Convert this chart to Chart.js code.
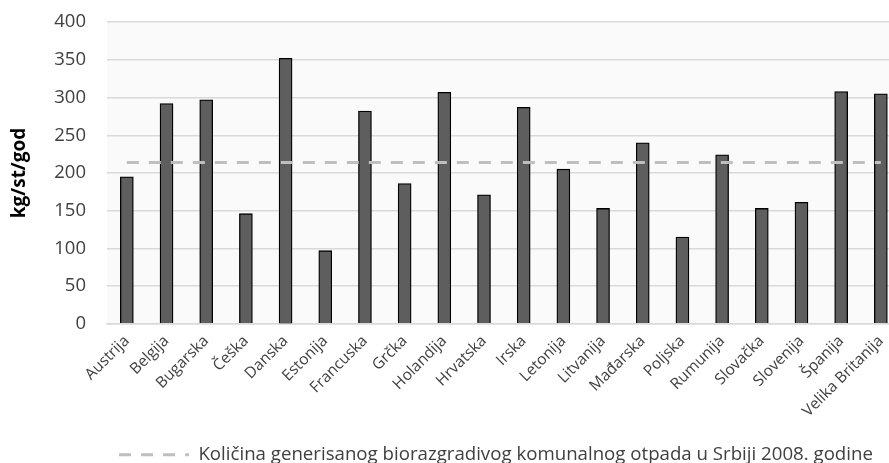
<!DOCTYPE html>
<html>
<head>
<meta charset="utf-8">
<script src="https://cdn.jsdelivr.net/npm/chart.js@4.4.1/dist/chart.umd.min.js"></script>
<style>
  html, body { margin: 0; padding: 0; background: #ffffff; overflow: hidden; }
  #wrap { width: 902px; height: 484px; position: relative; top: -10px; }
</style>
</head>
<body>
<div id="wrap"><canvas id="c"></canvas></div>
<script>
const categories = ["Austrija","Belgija","Bugarska","Češka","Danska","Estonija","Francuska","Grčka","Holandija","Hrvatska","Irska","Letonija","Litvanija","Mađarska","Poljska","Rumunija","Slovačka","Slovenija","Španija","Velika Britanija"];
const wasteValues = [195, 292, 297, 146, 352, 97, 282, 186, 307, 171, 287, 205, 153, 240, 115, 224, 153, 161, 308, 305];
const serbiaValues = [214, 214, 214, 214, 214, 214, 214, 214, 214, 214, 214, 214, 214, 214, 214, 214, 214, 214, 214, 214];
const yTicks = [0, 50, 100, 150, 200, 250, 300, 350, 400];
const yTitle = "kg/st/god";
const legendLabel = "Količina generisanog biorazgradivog komunalnog otpada u Srbiji 2008. godine";

const FONT = "'Open Sans', sans-serif";
const TEXT = "#404040";

const plotBg = {
  id: 'plotBg',
  beforeDraw(chart) {
    const {ctx, chartArea: a} = chart;
    ctx.save();
    ctx.fillStyle = '#fafafa';
    ctx.fillRect(a.left, a.top, a.right - a.left, a.bottom - a.top);
    ctx.restore();
  }
};

const legendShift = {
  id: 'legendShift',
  afterLayout(chart) {
    const lg = chart.legend;
    if (lg) { lg.left += 45; lg.right += 45; }
  }
};

new Chart(document.getElementById('c'), {
  data: {
    labels: categories,
    datasets: [
      {
        type: 'line',
        label: legendLabel,
        data: serbiaValues,
        borderColor: '#bfbfbf',
        backgroundColor: '#bfbfbf',
        borderWidth: 3,
        borderDash: [12, 10],
        pointRadius: 0,
        pointHoverRadius: 0,
        pointStyle: 'line',
        fill: false,
        order: 0
      },
      {
        type: 'bar',
        label: 'bars',
        data: wasteValues,
        backgroundColor: '#5e5e5e',
        borderColor: '#000000',
        borderWidth: 1.3,
        barThickness: 13,
        order: 1
      }
    ]
  },
  options: {
    responsive: true,
    maintainAspectRatio: false,
    animation: false,
    layout: { padding: { top: 0, left: 0, right: 0, bottom: 0 } },
    plugins: {
      tooltip: { enabled: false },
      legend: {
        position: 'bottom',
        labels: {
          filter: (item) => item.text === legendLabel,
          generateLabels(chart) {
            const items = Chart.defaults.plugins.legend.labels.generateLabels(chart);
            items.forEach(it => {
              it.lineDash = [12, 10];
              it.lineWidth = 3;
              it.strokeStyle = '#bfbfbf';
              it.fillStyle = '#bfbfbf';
              it.pointStyle = 'line';
            });
            return items;
          },
          usePointStyle: true,
          pointStyleWidth: 70,
          color: TEXT,
          font: { family: FONT, size: 18.66 },
          padding: 10
        }
      }
    },
    scales: {
      x: {
        grid: { display: false, drawTicks: false },
        border: { display: true, color: '#d9d9d9', width: 1.5 },
        ticks: {
          minRotation: 45, maxRotation: 45,
          autoSkip: false,
          color: TEXT,
          font: { family: FONT, size: 15.5 },
          padding: 8
        },
        afterFit(scale) { scale.height = 111.5; }
      },
      y: {
        min: 0, max: 400,
        afterBuildTicks(scale) { scale.ticks = yTicks.map(v => ({ value: v })); },
        grid: { color: '#d9d9d9', lineWidth: 1.5, drawTicks: false },
        border: { display: false },
        ticks: {
          color: TEXT,
          font: { family: FONT, size: 18.5 },
          padding: 21
        },
        title: {
          display: true,
          text: yTitle,
          color: '#000000',
          font: { family: FONT, size: 19, weight: 'bold' },
          padding: { top: 8, bottom: 4 }
        },
        afterFit(scale) { scale.width = 107; }
      }
    }
  },
  plugins: [plotBg, legendShift]
});
</script>
</body>
</html>
